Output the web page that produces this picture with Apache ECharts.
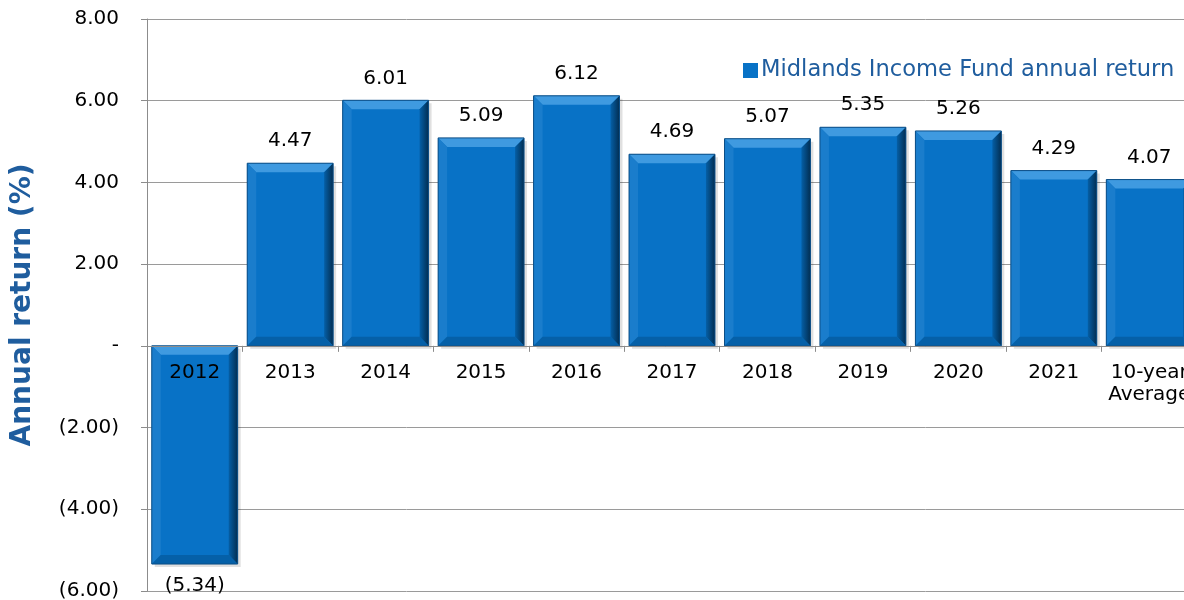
<!DOCTYPE html>
<html>
<head>
<meta charset="utf-8">
<script src="https://cdn.jsdelivr.net/npm/echarts@6/dist/echarts.min.js"></script>
<style>
  html, body { margin: 0; padding: 0; background: #fff; }
  #chart { width: 1184px; height: 600px; }
</style>
</head>
<body>
<div id="chart"></div>
<script>
var years = ['2012', '2013', '2014', '2015', '2016', '2017', '2018', '2019', '2020', '2021', '10-year\nAverage'];
var annualReturn = [-5.34, 4.47, 6.01, 5.09, 6.12, 4.69, 5.07, 5.35, 5.26, 4.29, 4.07];
var seriesName = 'Midlands Income Fund annual return';

var fontName = 'DejaVu Sans';
var yMin = -6, yMax = 8;
var gridH = 572;

function fmt(v) {
    if (v === 0) return '-';
    if (v < 0) return '(' + Math.abs(v).toFixed(2) + ')';
    return v.toFixed(2);
}

// bar with bevelled edges, positions come from the axes
function renderBar(params, api) {
    var idx = api.value(0), val = api.value(1);
    var base = api.coord([idx, 0]);
    var tip = api.coord([idx, val]);
    var w = api.size([1, 0])[0] * 0.9;
    var x0 = base[0] - w / 2, x1 = base[0] + w / 2;
    var y0 = Math.min(base[1], tip[1]), y1 = Math.max(base[1], tip[1]);
    var b = 9;
    var labelY = val >= 0 ? y0 - 22 : y1 + 22;
    return {
        type: 'group',
        children: [
            { type: 'rect', shape: { x: x0 + 3, y: y0 + 3, width: w, height: y1 - y0 },
              style: { fill: 'rgba(0,0,0,0.12)' } },
            { type: 'rect', shape: { x: x0, y: y0, width: w, height: y1 - y0 },
              style: { fill: '#0872C6' } },
            { type: 'polygon', shape: { points: [[x0, y0], [x1, y0], [x1 - b, y0 + b], [x0 + b, y0 + b]] },
              style: { fill: '#3F9AE0' } },
            { type: 'polygon', shape: { points: [[x0, y0], [x0 + b, y0 + b], [x0 + b, y1 - b], [x0, y1]] },
              style: { fill: '#1A7DCC' } },
            { type: 'polygon', shape: { points: [[x1, y0], [x1, y1], [x1 - b, y1 - b], [x1 - b, y0 + b]] },
              style: { fill: new echarts.graphic.LinearGradient(0, 0, 1, 0, [
                  { offset: 0, color: '#055FA6' }, { offset: 1, color: '#022E52' }]) } },
            { type: 'polygon', shape: { points: [[x0, y1], [x1, y1], [x1 - b, y1 - b], [x0 + b, y1 - b]] },
              style: { fill: '#0560A8' } },
            { type: 'rect', shape: { x: x0, y: y0, width: w, height: y1 - y0 },
              style: { fill: 'none', stroke: '#0C4E86', lineWidth: 1 } },
            { type: 'text', x: base[0], y: labelY,
              style: { text: fmt(val), fill: '#000', fontSize: 20, fontFamily: fontName,
                       align: 'center', verticalAlign: 'middle' } }
        ]
    };
}

var chart = echarts.init(document.getElementById('chart'));
var option = {
    animation: false,
    grid: { left: 147, top: 19, width: 1050, height: gridH, containLabel: false, outerBoundsMode: 'none' },
    legend: {
        data: [{ name: seriesName, icon: 'rect' }],
        left: 738, top: 54,
        itemWidth: 15, itemHeight: 15, itemGap: 4,
        textStyle: { color: '#1F5D9E', fontSize: 22.6, fontFamily: fontName, padding: [0, 0, 0, -2] }
    },
    xAxis: {
        type: 'category',
        data: years,
        z: 5,
        // put the category axis on the zero line
        offset: -gridH * (0 - yMin) / (yMax - yMin),
        axisLine: { onZero: false, lineStyle: { color: '#8C8C8C', width: 1 } },
        axisTick: { show: true, length: 6, lineStyle: { color: '#8C8C8C' } },
        axisLabel: { color: '#000', fontSize: 20, fontFamily: fontName, margin: 16, lineHeight: 22, interval: 0 },
        splitLine: { show: false }
    },
    yAxis: {
        type: 'value',
        min: yMin, max: yMax, interval: 2,
        name: 'Annual return (%)',
        nameLocation: 'middle',
        nameGap: 110,
        nameTextStyle: { color: '#1F5D9E', fontSize: 28, fontWeight: 'bold', fontFamily: fontName },
        axisLine: { show: true, lineStyle: { color: '#8C8C8C' } },
        axisTick: { show: true, length: 6, lineStyle: { color: '#8C8C8C' } },
        axisLabel: { color: '#000', fontSize: 20, fontFamily: fontName, margin: 28, formatter: fmt },
        splitLine: { show: true, lineStyle: { color: '#9A9A9A', width: 1 } }
    },
    series: [{
        name: seriesName,
        type: 'custom',
        renderItem: renderBar,
        itemStyle: { color: '#0872C6' },
        data: annualReturn.map(function (v, i) { return [i, v]; }),
        z: 2
    }]
};
chart.setOption(option);
</script>
</body>
</html>
